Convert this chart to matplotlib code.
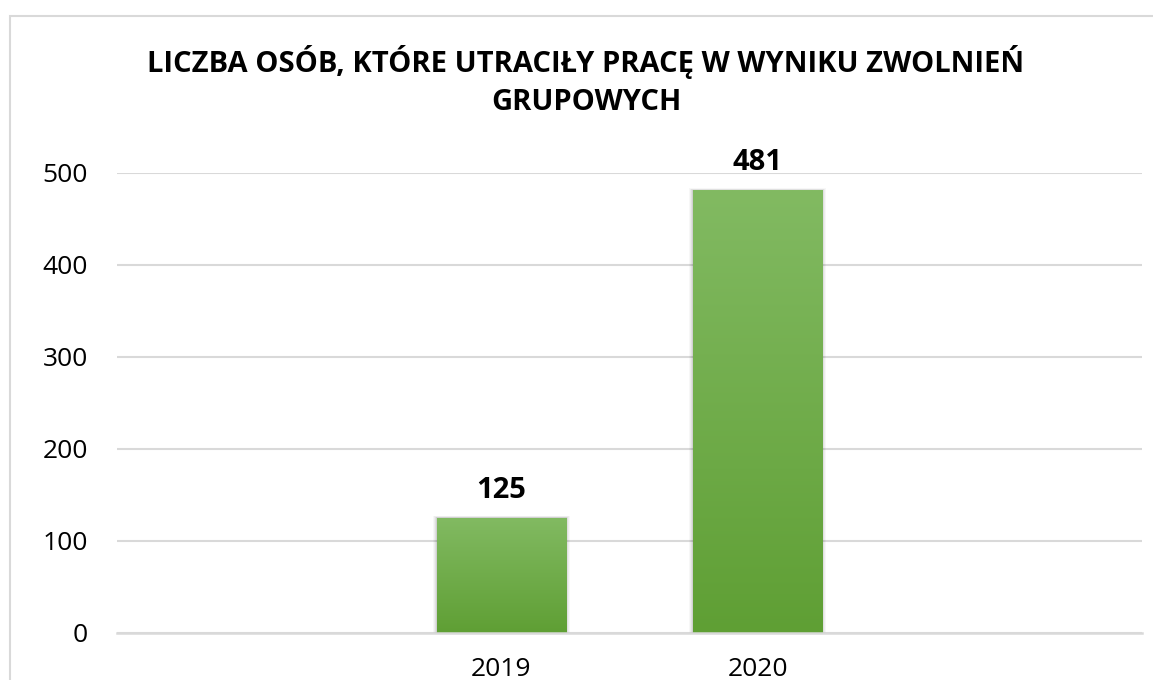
import matplotlib.pyplot as plt
import numpy as np
from matplotlib.patches import Rectangle

plt.rcParams['font.family'] = ['Open Sans', 'DejaVu Sans']

# Data
categories = ['', '2019', '2020', '']
values = [np.nan, 125, 481, np.nan]
yticks = [0, 100, 200, 300, 400, 500]
title = 'LICZBA OSÓB, KTÓRE UTRACIŁY PRACĘ W WYNIKU ZWOLNIEŃ\nGRUPOWYCH'

grid_col = '#d9d9d9'
top_col = np.array([0x82, 0xba, 0x62]) / 255
bot_col = np.array([0x5f, 0x9f, 0x34]) / 255

fig = plt.figure(figsize=(11.53, 6.8), dpi=100)
ax = fig.add_axes([117 / 1153, 1 - 633 / 680, 1025 / 1153, 460 / 680])

# outer chart border (runs off the right and bottom edges)
fig.add_artist(Rectangle((9.5 / 1153, -0.05), 1.2, 1 - 15.5 / 680 + 0.05,
                         transform=fig.transFigure, fill=False,
                         edgecolor=grid_col, linewidth=1.5))

x = np.arange(len(categories))
width = 0.505
ax.set_xlim(-0.5, len(categories) - 0.5)
ax.set_ylim(0, 500)

# vertical gradient: light at the top, darker at the bottom of each bar
grad = np.linspace(0, 1, 256)[:, None]
img = top_col[None, None, :] * (1 - grad[:, :, None]) + bot_col[None, None, :] * grad[:, :, None]

for xi, v in zip(x, values):
    if np.isnan(v):
        continue
    # soft shadow
    for k, a in [(4, 0.03), (3, 0.04), (2, 0.05), (1, 0.07)]:
        dx = k * 0.0035
        ax.add_patch(Rectangle((xi - width / 2 - dx, 0), width + 2 * dx, v + k * 0.6,
                               facecolor='black', alpha=a, linewidth=0, zorder=1))
    bar = ax.bar(xi, v, width=width, color='none', linewidth=0, zorder=2)[0]
    im = ax.imshow(img, extent=[xi - width / 2, xi + width / 2, 0, v],
                   aspect='auto', zorder=2, origin='upper')
    im.set_clip_path(bar)
    ax.annotate(f'{v:.0f}', (xi, v), xytext=(0, 14.4), textcoords='offset points',
                ha='center', va='baseline', fontsize=21, fontweight='bold',
                annotation_clip=False)

ax.set_xticks(x)
ax.set_xticklabels(categories, fontsize=19)
ax.set_yticks(yticks)
ax.set_yticklabels([str(t) for t in yticks], fontsize=19)
ax.tick_params(axis='both', length=0)
ax.tick_params(axis='y', pad=21)
ax.tick_params(axis='x', pad=17)

ax.grid(axis='y', color=grid_col, linewidth=1.5, zorder=0)
ax.set_axisbelow(True)
for s in ['top', 'right', 'left']:
    ax.spines[s].set_visible(False)
ax.spines['bottom'].set_color(grid_col)
ax.spines['bottom'].set_linewidth(1.8)
ax.spines['bottom'].set_zorder(3)

fig.text(586 / 1153, 1 - 81 / 680, title, ha='center', va='center',
         fontsize=21, fontweight='bold', linespacing=1.45)

fig.savefig('out.png', dpi=100)
